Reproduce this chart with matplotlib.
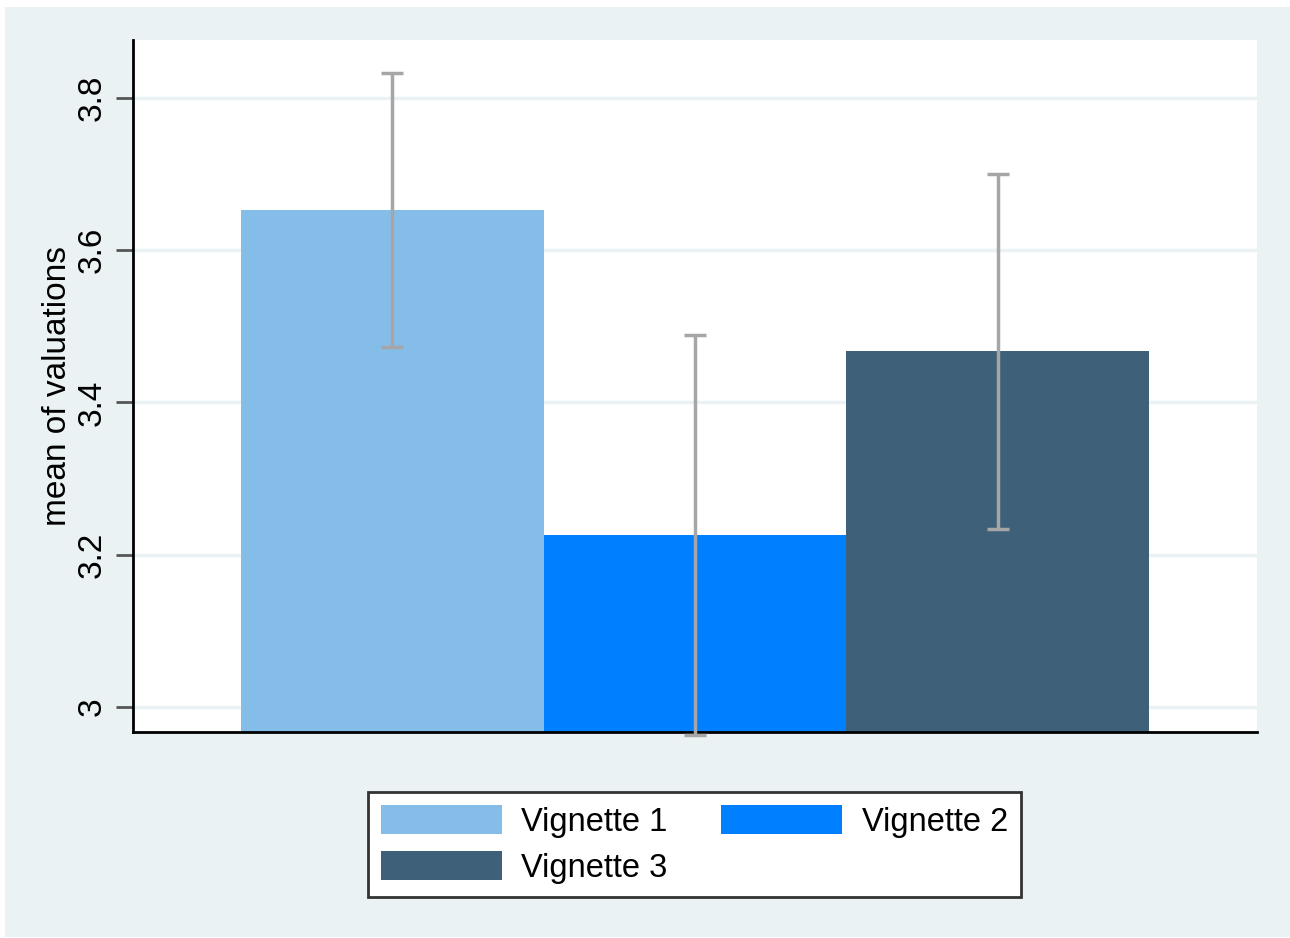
import matplotlib.pyplot as plt
from matplotlib.patches import Rectangle, Patch
import numpy as np

# mean valuation per vignette with confidence interval half-widths
labels = ['Vignette 1', 'Vignette 2', 'Vignette 3']
means = [3.653, 3.226, 3.467]
ci_half = [0.180, 0.263, 0.233]
colors = ['#83BDE8', '#007FFF', '#3E6079']

W, H = 1290, 938
fig = plt.figure(figsize=(W / 100, H / 100), dpi=100, facecolor='white')
plt.rcParams['font.family'] = ['Liberation Sans', 'DejaVu Sans']

# graph region background (slightly inset from the image edge)
bg = Rectangle((5 / W, 1 - 937 / H), 1 - 5 / W, (937 - 7) / H,
               transform=fig.transFigure, facecolor='#EAF2F3',
               edgecolor='none', zorder=-5)
fig.add_artist(bg)

ax = fig.add_axes([133 / W, 1 - 732 / H, (1257 - 133) / W, (732 - 40) / H])
ax.set_facecolor('white')

x = np.arange(len(means))
ax.bar(x, means, width=1.0, color=colors, bottom=0, zorder=2)
ax.errorbar(x, means, yerr=ci_half, fmt='none', ecolor='#A6A6A6',
            elinewidth=2.5, capsize=8, capthick=2.5, zorder=3, clip_on=False)

pad = 0.357
ax.set_xlim(-0.5 - pad, 2.5 + pad)
ax.set_ylim(2.967, 3.876)
ax.set_xticks([])
ax.set_yticks([3, 3.2, 3.4, 3.6, 3.8])
ax.set_yticklabels(['3', '3.2', '3.4', '3.6', '3.8'], rotation=90, va='center')
ax.tick_params(axis='y', length=12, width=2, color='#555555', labelsize=24, pad=6)
ax.grid(axis='y', color='#EAF2F3', linewidth=2.5, zorder=1)
ax.set_axisbelow(True)
for s in ['top', 'right']:
    ax.spines[s].set_visible(False)
for s in ['left', 'bottom']:
    ax.spines[s].set_linewidth(2)
    ax.spines[s].set_color('black')
ax.set_ylabel('mean of valuations', fontsize=24, labelpad=3)

# legend filled row by row: 1, 2 / 3
handles = [Patch(facecolor=c, edgecolor='none') for c in colors]
order = [0, 2, 1]
leg = fig.legend([handles[i] for i in order], [labels[i] for i in order],
                 loc='center', ncol=2,
                 bbox_to_anchor=((367 + 1022) / 2 / W, 1 - (793 + 896) / 2 / H),
                 fontsize=23.5, frameon=True, fancybox=False, edgecolor='#333333',
                 facecolor='white', framealpha=1,
                 handlelength=3.7, handleheight=1.0, columnspacing=1.65,
                 handletextpad=0.6, labelspacing=0.4, borderpad=0.4)
leg.get_frame().set_linewidth(2)

fig.savefig('out.png', dpi=100, facecolor='white')
